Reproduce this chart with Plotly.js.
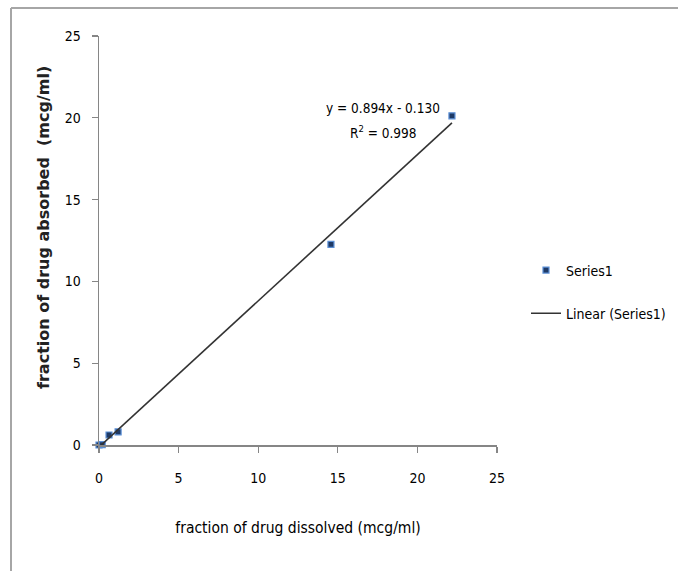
<!DOCTYPE html>
<html>
<head>
<meta charset="utf-8">
<script src="https://cdn.plot.ly/plotly-3.0.1.min.js"></script>
<style>
  html, body { margin: 0; padding: 0; background: #fff; }
  #chart { width: 678px; height: 571px; }
</style>
</head>
<body>
<div id="chart"></div>
<script>
// Data
const dissolved = [0, 0.2, 0.63, 1.2, 14.57, 22.17];
const absorbed  = [0, 0.02, 0.61, 0.8, 12.26, 20.12];
const slope = 0.894;
const intercept = -0.130;
const rSquared = 0.998;
const tickVals = [0, 5, 10, 15, 20, 25];
const seriesName = "Series1";
const trendName = "Linear (Series1)";
const xTitle = "fraction of drug dissolved (mcg/ml)";
const yTitle = "fraction of drug absorbed  (mcg/ml)";

const xMin = Math.min(...dissolved);
const xMax = Math.max(...dissolved);
const trendX = [xMin, xMax];
const trendY = trendX.map(x => slope * x + intercept);

const narrow = "'DejaVu Sans Condensed', 'Liberation Sans Narrow', sans-serif";
const axisGrey = "#868686";

// plot area in pixels: x 99..497, y 36..445
const px = x => (x - 99) / 398;
const py = y => (445 - y) / 409;

const traces = [
  {
    x: dissolved, y: absorbed, name: seriesName, legendgroup: "a",
    type: "scatter", mode: "markers",
    marker: { symbol: "square", size: 6, color: "#1f3a66", line: { color: "#5b8fd6", width: 1.2 } },
    cliponaxis: false
  },
  {
    x: trendX, y: trendY, name: trendName, legendgroup: "b",
    type: "scatter", mode: "lines",
    line: { color: "#333333", width: 1.6 }
  }
];

const layout = {
  width: 678, height: 571,
  margin: { l: 99, r: 181, t: 36, b: 126, autoexpand: false },
  paper_bgcolor: "#ffffff", plot_bgcolor: "#ffffff",
  font: { family: narrow, size: 14, color: "#000" },
  showlegend: true,
  legend: {
    x: px(526), y: py(292), xanchor: "left", yanchor: "middle",
    font: { family: narrow, size: 14, color: "#000" },
    tracegroupgap: 22, itemwidth: 30, bgcolor: "rgba(0,0,0,0)"
  },
  xaxis: {
    range: [0, 25], tickvals: tickVals, ticktext: tickVals.map(String),
    showgrid: false, zeroline: false, showline: true, linecolor: axisGrey, linewidth: 1.5,
    ticks: "outside", ticklen: 6, tickcolor: axisGrey, tickwidth: 1.2,
    tickfont: { family: narrow, size: 14 }, ticklabelstandoff: 14,
    title: { text: xTitle, font: { family: narrow, size: 15.5 }, standoff: 37 }
  },
  yaxis: {
    range: [0, 25], tickvals: tickVals, ticktext: tickVals.map(String),
    showgrid: false, zeroline: false, showline: true, linecolor: axisGrey, linewidth: 1.5,
    ticks: "outside", ticklen: 6, tickcolor: axisGrey, tickwidth: 1.2,
    tickfont: { family: narrow, size: 14 }, ticklabelstandoff: 8
  },
  annotations: [
    { xref: "paper", yref: "paper", x: px(43), y: py(228), xanchor: "center", yanchor: "middle",
      textangle: -90, text: yTitle, showarrow: false,
      font: { family: "'DejaVu Sans', sans-serif", size: 16, color: "#222", weight: "bold" } },
    { xref: "paper", yref: "paper", x: px(383), y: py(108), xanchor: "center", yanchor: "middle",
      text: "y = " + slope.toFixed(3) + "x - " + Math.abs(intercept).toFixed(3), showarrow: false,
      font: { family: narrow, size: 13.5 } },
    { xref: "paper", yref: "paper", x: px(383), y: py(132), xanchor: "center", yanchor: "middle",
      text: "R<sup>2</sup> = " + rSquared.toFixed(3), showarrow: false,
      font: { family: narrow, size: 13.5 } }
  ],
  shapes: [
    { type: "line", xref: "paper", yref: "paper",
      x0: px(11), x1: px(11), y0: py(8), y1: py(575),
      line: { color: "#a6a6a6", width: 2 } },
    { type: "line", xref: "paper", yref: "paper",
      x0: px(11), x1: px(680), y0: py(8), y1: py(8),
      line: { color: "#a6a6a6", width: 2 } }
  ]
};

Plotly.newPlot("chart", traces, layout, { displayModeBar: false, staticPlot: true });
</script>
</body>
</html>
